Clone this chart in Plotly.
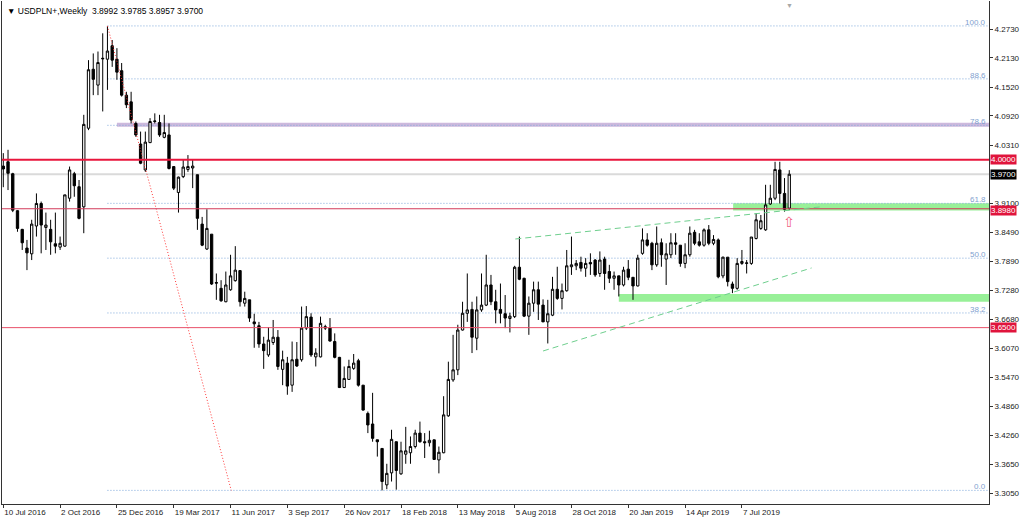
import pandas as pd
import plotly.graph_objects as go

symbol_title = "USDPLN+,Weekly"
first_week = "2016-07-10"

opens = [3.987, 3.996, 3.971, 3.894, 3.855, 3.816, 3.804, 3.862, 3.909, 3.859,
         3.855, 3.825, 3.818, 3.820, 3.920, 3.971, 3.944, 3.902, 4.066, 4.189,
         4.156, 4.212, 4.210, 4.238, 4.210, 4.186, 4.135, 4.121, 4.076, 4.033,
         3.979, 4.036, 4.080, 4.078, 4.047, 4.052, 3.986, 3.932, 3.965, 3.980,
         3.983, 3.969, 3.866, 3.814, 3.845, 3.744, 3.732, 3.704, 3.729, 3.748,
         3.769, 3.701, 3.708, 3.662, 3.654, 3.616, 3.593, 3.619, 3.630, 3.563,
         3.576, 3.530, 3.584, 3.583, 3.649, 3.672, 3.589, 3.589, 3.652, 3.649,
         3.621, 3.588, 3.525, 3.542, 3.565, 3.581, 3.530, 3.471, 3.449, 3.416,
         3.398, 3.322, 3.347, 3.412, 3.345, 3.386, 3.389, 3.402, 3.430, 3.412,
         3.410, 3.416, 3.374, 3.389, 3.466, 3.541, 3.562, 3.645, 3.680, 3.688,
         3.628, 3.687, 3.697, 3.739, 3.704, 3.688, 3.679, 3.669, 3.673, 3.776,
         3.753, 3.674, 3.701, 3.729, 3.697, 3.662, 3.676, 3.730, 3.711, 3.727,
         3.777, 3.779, 3.786, 3.774, 3.786, 3.791, 3.763, 3.793, 3.767, 3.753,
         3.758, 3.739, 3.772, 3.755, 3.737, 3.805, 3.833, 3.826, 3.781, 3.827,
         3.793, 3.802, 3.827, 3.822, 3.784, 3.802, 3.849, 3.829, 3.822, 3.854,
         3.826, 3.833, 3.758, 3.797, 3.741, 3.732, 3.784, 3.784, 3.784, 3.836,
         3.857, 3.854, 3.908, 3.920, 3.979, 3.930, 3.8992]

highs = [4.014, 4.021, 3.973, 3.895, 3.856, 3.833, 3.875, 3.930, 3.913, 3.890,
         3.875, 3.890, 3.840, 3.927, 3.986, 3.975, 3.958, 4.094, 4.208, 4.222,
         4.226, 4.264, 4.279, 4.250, 4.233, 4.202, 4.142, 4.142, 4.080, 4.059,
         4.059, 4.087, 4.097, 4.094, 4.094, 4.076, 3.986, 3.965, 4.000, 4.010,
         4.000, 3.969, 3.881, 3.897, 3.845, 3.763, 3.749, 3.767, 3.802, 3.820,
         3.770, 3.725, 3.708, 3.679, 3.662, 3.631, 3.651, 3.666, 3.645, 3.602,
         3.589, 3.621, 3.620, 3.694, 3.695, 3.680, 3.607, 3.673, 3.656, 3.670,
         3.638, 3.589, 3.569, 3.583, 3.595, 3.585, 3.530, 3.475, 3.514, 3.416,
         3.398, 3.366, 3.437, 3.412, 3.412, 3.443, 3.423, 3.437, 3.454, 3.430,
         3.435, 3.416, 3.402, 3.507, 3.579, 3.635, 3.656, 3.704, 3.763, 3.704,
         3.715, 3.763, 3.802, 3.760, 3.729, 3.742, 3.718, 3.681, 3.779, 3.840,
         3.754, 3.715, 3.746, 3.746, 3.709, 3.708, 3.756, 3.777, 3.742, 3.812,
         3.840, 3.791, 3.798, 3.795, 3.805, 3.793, 3.809, 3.798, 3.781, 3.767,
         3.758, 3.777, 3.791, 3.755, 3.802, 3.857, 3.847, 3.829, 3.861, 3.836,
         3.826, 3.847, 3.847, 3.822, 3.826, 3.861, 3.854, 3.847, 3.857, 3.864,
         3.843, 3.836, 3.798, 3.797, 3.746, 3.795, 3.812, 3.791, 3.839, 3.889,
         3.885, 3.948, 3.948, 3.996, 3.996, 3.962, 3.9785]

lows = [3.943, 3.937, 3.891, 3.850, 3.812, 3.770, 3.791, 3.840, 3.805, 3.812,
        3.802, 3.805, 3.812, 3.819, 3.913, 3.923, 3.876, 3.847, 4.062, 4.135,
        4.135, 4.101, 4.146, 4.194, 4.167, 4.132, 4.108, 4.076, 4.048, 3.991,
        3.975, 4.035, 4.076, 4.048, 4.045, 3.980, 3.937, 3.890, 3.962, 3.975,
        3.941, 3.854, 3.820, 3.812, 3.739, 3.708, 3.704, 3.703, 3.727, 3.746,
        3.694, 3.694, 3.662, 3.608, 3.608, 3.564, 3.589, 3.614, 3.562, 3.530,
        3.510, 3.516, 3.568, 3.579, 3.645, 3.589, 3.569, 3.588, 3.645, 3.621,
        3.586, 3.524, 3.524, 3.541, 3.562, 3.527, 3.477, 3.430, 3.412, 3.381,
        3.3105, 3.313, 3.329, 3.312, 3.343, 3.366, 3.366, 3.398, 3.410, 3.378,
        3.402, 3.374, 3.346, 3.388, 3.464, 3.537, 3.551, 3.644, 3.662, 3.597,
        3.603, 3.683, 3.695, 3.697, 3.659, 3.659, 3.649, 3.640, 3.670, 3.749,
        3.672, 3.635, 3.683, 3.666, 3.662, 3.617, 3.674, 3.708, 3.688, 3.725,
        3.760, 3.770, 3.767, 3.756, 3.760, 3.756, 3.756, 3.729, 3.743, 3.729,
        3.715, 3.736, 3.749, 3.708, 3.736, 3.802, 3.819, 3.770, 3.777, 3.777,
        3.739, 3.795, 3.802, 3.777, 3.774, 3.798, 3.822, 3.819, 3.819, 3.822,
        3.822, 3.753, 3.753, 3.736, 3.722, 3.729, 3.781, 3.763, 3.781, 3.834,
        3.854, 3.852, 3.906, 3.916, 3.909, 3.892, 3.8957]

closes = [3.981, 3.972, 3.895, 3.857, 3.827, 3.806, 3.866, 3.909, 3.864, 3.864,
          3.829, 3.820, 3.826, 3.927, 3.979, 3.946, 3.878, 4.074, 4.188, 4.168,
          4.203, 4.211, 4.227, 4.208, 4.183, 4.135, 4.115, 4.083, 4.052, 3.993,
          4.037, 4.080, 4.081, 4.052, 4.057, 3.982, 3.941, 3.964, 3.985, 3.986,
          3.987, 3.878, 3.822, 3.857, 3.741, 3.743, 3.706, 3.739, 3.758, 3.770,
          3.704, 3.711, 3.670, 3.658, 3.616, 3.602, 3.624, 3.630, 3.569, 3.583,
          3.528, 3.583, 3.570, 3.649, 3.673, 3.593, 3.597, 3.659, 3.649, 3.622,
          3.588, 3.525, 3.544, 3.569, 3.576, 3.530, 3.478, 3.447, 3.419, 3.412,
          3.329, 3.346, 3.417, 3.352, 3.393, 3.393, 3.402, 3.430, 3.412, 3.410,
          3.415, 3.375, 3.390, 3.468, 3.542, 3.562, 3.645, 3.680, 3.687, 3.630,
          3.687, 3.697, 3.739, 3.704, 3.687, 3.680, 3.670, 3.674, 3.776, 3.751,
          3.674, 3.701, 3.729, 3.699, 3.662, 3.679, 3.730, 3.711, 3.727, 3.779,
          3.781, 3.784, 3.774, 3.784, 3.783, 3.760, 3.791, 3.763, 3.753, 3.758,
          3.739, 3.770, 3.755, 3.737, 3.795, 3.833, 3.822, 3.781, 3.826, 3.802,
          3.804, 3.827, 3.824, 3.784, 3.802, 3.847, 3.826, 3.822, 3.854, 3.826,
          3.834, 3.756, 3.797, 3.746, 3.732, 3.784, 3.788, 3.785, 3.839, 3.875,
          3.873, 3.906, 3.920, 3.980, 3.930, 3.897, 3.9700]

x_tick_text = ["10 Jul 2016", "2 Oct 2016", "25 Dec 2016", "19 Mar 2017", "11 Jun 2017",
               "3 Sep 2017", "26 Nov 2017", "18 Feb 2018", "13 May 2018", "5 Aug 2018",
               "28 Oct 2018", "20 Jan 2019", "14 Apr 2019", "7 Jul 2019"]
y_tick_values = [4.2730, 4.2130, 4.1520, 4.0920, 4.0310, 3.9100, 3.8490, 3.7890,
                 3.7280, 3.6680, 3.6070, 3.5470, 3.4860, 3.4260, 3.3650, 3.3050]

# Fibonacci retracement object
fib_high = 4.2794
fib_low = 3.3105
fib_time_high = "2016-12-11"
fib_time_low = "2017-06-12"
fib_ratios = [0.0, 0.382, 0.5, 0.618, 0.786, 0.886, 1.0]

# horizontal levels
level_prices = [4.0000, 3.9700, 3.8980, 3.6500]
level_colors = ["#e8163c", "#dadada", "#d23a5a", "#e8506a"]
level_widths = [2, 2, 1, 1]
level_tag_bg = ["#e0143c", "#000000", "#e0143c", "#e0143c"]
level_tag_shift = [0, 0, -2, 0]

# zones
zone_starts = ["2016-12-25", "2019-06-24", "2019-01-06"]
zone_lows = [4.0693, 3.8944, 3.7042]
zone_highs = [4.0776, 3.9097, 3.7202]
zone_colors = ["#cdb9dd", "#98f098", "#98f098"]

# trend channel lines
trend_times_a = ["2018-08-06", "2019-10-30"]
trend_prices_a = [3.8349, 3.9017]
trend_times_b = ["2018-09-16", "2019-10-18"]
trend_prices_b = [3.6013, 3.7745]

weeks = pd.date_range(first_week, periods=len(opens), freq="7D")
x_ticks = pd.date_range(first_week, periods=len(x_tick_text), freq="84D")
x_left = pd.Timestamp(first_week) - pd.Timedelta(days=1.9)
x_right = pd.Timestamp(first_week) + pd.Timedelta(days=1457.3)

FONT = "Liberation Sans, Arial, sans-serif"

fig = go.Figure()
fig.add_trace(go.Candlestick(
    x=weeks, open=opens, high=highs, low=lows, close=closes,
    increasing=dict(line=dict(color="#000000", width=1), fillcolor="#ffffff"),
    decreasing=dict(line=dict(color="#000000", width=1), fillcolor="#000000"),
    whiskerwidth=0, hoverinfo="skip", showlegend=False,
))

shapes = []
annotations = []

for t0, lo, hi, col in zip(zone_starts, zone_lows, zone_highs, zone_colors):
    shapes.append(dict(type="rect", xref="x", yref="y", x0=t0, x1=x_right, y0=lo, y1=hi,
                       fillcolor=col, line=dict(width=0), layer="below"))

for r in fib_ratios:
    lvl = fib_low + r * (fib_high - fib_low)
    shapes.append(dict(type="line", xref="x", yref="y", x0=fib_time_high, x1=x_right,
                       y0=lvl, y1=lvl, line=dict(color="#7ea8da", width=1, dash="1px,2px"),
                       layer="below"))
    annotations.append(dict(xref="paper", yref="y", x=1, y=lvl, xanchor="right", yanchor="bottom",
                            xshift=-1, yshift=-3, text=f"{r*100:.1f}", showarrow=False,
                            font=dict(family=FONT, size=8, color="#7f9fcf")))
shapes.append(dict(type="line", xref="x", yref="y", x0=fib_time_high, x1=fib_time_low,
                   y0=fib_high, y1=fib_low, line=dict(color="#ff3b3b", width=1, dash="1px,2px"),
                   layer="above"))

for p, col, w, bg, sh in zip(level_prices, level_colors, level_widths, level_tag_bg, level_tag_shift):
    shapes.append(dict(type="line", xref="paper", yref="y", x0=0, x1=1, y0=p, y1=p,
                       line=dict(color=col, width=w),
                       layer="below" if bg == "#000000" else "above"))
    annotations.append(dict(xref="paper", yref="y", x=1, y=p, xanchor="left", yanchor="middle",
                            xshift=1, yshift=sh, text=f"{p:.4f}", showarrow=False, bgcolor=bg,
                            borderpad=0, font=dict(family=FONT, size=8, color="#ffffff")))

for tt, pp in ((trend_times_a, trend_prices_a), (trend_times_b, trend_prices_b)):
    shapes.append(dict(type="line", xref="x", yref="y", x0=tt[0], x1=tt[1], y0=pp[0], y1=pp[1],
                       line=dict(color="#6fcf8e", width=1, dash="6px,4px"), layer="above"))

header = "\u25bc\u00a0" + symbol_title + "\u00a0\u00a0" + "\u00a0".join(
    f"{v:.4f}" for v in (opens[-1], highs[-1], lows[-1], closes[-1]))
annotations.append(dict(xref="paper", yref="paper", x=0, y=1, xanchor="left", yanchor="top",
                        xshift=3, yshift=-3, text=header, showarrow=False,
                        font=dict(family=FONT, size=8.5, color="#000000")))
annotations.append(dict(xref="x", yref="paper", x=weeks[-1], y=1, xanchor="center", yanchor="top",
                        yshift=1, text="\u25bc", showarrow=False,
                        font=dict(family=FONT, size=7, color="#a8a8a8")))
annotations.append(dict(xref="x", yref="y", x=weeks[-1], y=lows[-1], xanchor="center", yanchor="top",
                        yshift=-2, text="\u21e7", showarrow=False,
                        font=dict(family="DejaVu Sans", size=14, color="#f0607e")))

fig.update_layout(
    width=1024, height=520,
    margin=dict(l=2, r=35, t=1, b=16),
    paper_bgcolor="#ffffff", plot_bgcolor="#ffffff",
    font=dict(family=FONT, size=8, color="#1a1a1a"),
    shapes=shapes, annotations=annotations, showlegend=False,
    hovermode=False,
    xaxis=dict(type="date", range=[x_left, x_right], tickvals=x_ticks, ticktext=x_tick_text,
               ticks="outside", ticklen=3, tickcolor="#333333", ticklabelposition="outside right",
               showline=True, linecolor="#333333", linewidth=1, mirror=False,
               showgrid=False, zeroline=False, automargin=False,
               rangeslider=dict(visible=False), tickfont=dict(family=FONT, size=8, color="#1a1a1a")),
    yaxis=dict(side="right", range=[3.2821, 4.3314], tickvals=y_tick_values,
               ticktext=[f"{v:.4f}" for v in y_tick_values],
               ticks="outside", ticklen=3, tickcolor="#333333",
               showline=True, linecolor="#333333", linewidth=1, mirror=True,
               showgrid=False, zeroline=False, automargin=False,
               tickfont=dict(family=FONT, size=8, color="#1a1a1a")),
)

fig.write_html("out.html", config={"displayModeBar": False, "staticPlot": True},
               post_script="document.body.style.margin='0';document.body.style.overflow='hidden';")
